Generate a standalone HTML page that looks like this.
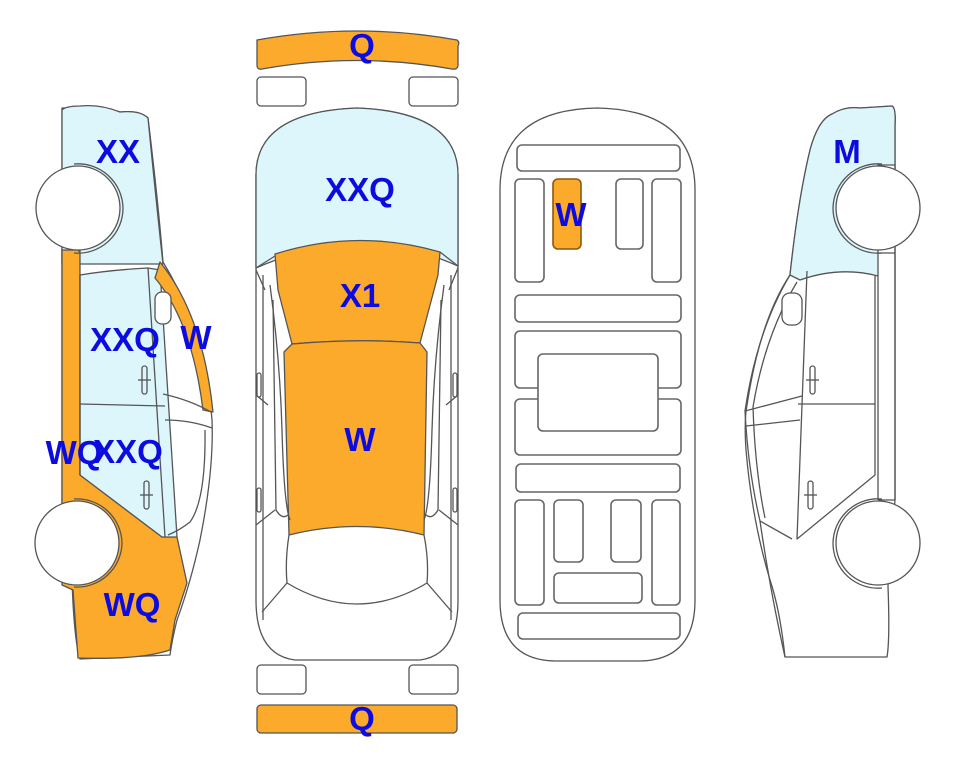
<!DOCTYPE html>
<html><head><meta charset="utf-8"><style>
html,body{margin:0;padding:0;background:#fff;}
svg{display:block;}
text{font-family:"Liberation Sans",Arial,sans-serif;font-weight:bold;font-size:33px;fill:#0C0CE0;text-anchor:middle;}
</style></head><body>
<svg width="963" height="768" viewBox="0 0 963 768" xmlns="http://www.w3.org/2000/svg">
<g stroke="#555" stroke-width="1.3" fill="none" stroke-linejoin="round">

<!-- ================= LEFT SIDE CAR ================= -->
<path d="M66,108 Q95,104 120,112 Q140,110 148,118 Q158,200 163,262 Q205,330 212,420 Q214,470 200,540 Q190,585 177,620 Q172,640 170,655 L80,659 Q74,640 72,580 L62,580 L62,108 Z" fill="#fff"/>
<path d="M62,110 Q66,106 80,106 Q100,104 120,112 Q140,110 148,118 Q156,200 163,264 L62,264 Z" fill="#DDF6FC"/>
<path d="M62,250 L80,250 L80,475 L162,537 L177,537 L187,583 L175,620 L170,650 Q140,660 78,658 L73,590 L62,585 Z" fill="#FBAA2C"/>
<path d="M80,275 Q110,270 148,268 L160,270 L177,537 L162,537 L80,475 Z" fill="#DDF6FC"/>
<line x1="80" y1="275" x2="80" y2="475"/>
<line x1="80" y1="404" x2="165" y2="406"/>
<line x1="148" y1="268" x2="165" y2="537"/>
<line x1="79" y1="245" x2="79" y2="252"/>
<path d="M160,262 Q203,315 213,412 L203,410 Q192,322 155,278 Z" fill="#FBAA2C"/>
<rect x="155" y="292" width="16" height="32" rx="7" fill="#fff"/>
<path d="M163,394 Q190,400 211,412"/>
<path d="M165,420 Q190,420 212,428"/>
<path d="M205,430 Q206,500 190,522 Q180,530 168,535"/>
<rect x="142" y="366" width="5" height="28" rx="2.5"/><path d="M138,380 h13"/>
<rect x="144" y="481" width="5" height="28" rx="2.5"/><path d="M140,495 h13"/>
<circle cx="78" cy="208" r="42" fill="#fff"/>
<circle cx="77" cy="543" r="42" fill="#fff"/>
<path d="M74,499 A45,45 0 0 1 122,543 A45,45 0 0 1 74,587" fill="none"/>
<path d="M74,164 A45,45 0 0 1 123,208 A45,45 0 0 1 74,253" fill="none"/>

<!-- ================= MIDDLE TOP CAR ================= -->
<path d="M257,40 Q357,22 457,40 Q460,42 458,46 L458,66 Q457,70 452,69 Q357,52 262,69 Q257,70 257,65 Z" fill="#FBAA2C"/>
<rect x="257" y="77" width="49" height="29" rx="4"/>
<rect x="409" y="77" width="49" height="29" rx="4"/>
<rect x="257" y="665" width="49" height="29" rx="4"/>
<rect x="409" y="665" width="49" height="29" rx="4"/>
<rect x="257" y="705" width="200" height="28" rx="4" fill="#FBAA2C"/>
<path d="M256,175 Q256,112 357,108 Q458,112 458,175 L458,600 Q458,655 420,660 L295,660 Q256,655 256,600 Z" fill="#fff"/>
<path d="M256,175 Q256,112 357,108 Q458,112 458,175 L458,266 Q360,222 256,268 Z" fill="#DDF6FC"/>
<path d="M275,254 Q357,228 440,252 L438,275 L420,343 Q357,338 292,344 L278,290 Z" fill="#FBAA2C"/>
<path d="M292,344 Q357,338 420,343 L427,352 L424,535 Q357,518 289,535 L284,352 Z" fill="#FBAA2C"/>
<path d="M256,268 L275,256"/><path d="M458,266 L440,252"/>
<path d="M263,275 L263,620"/><path d="M451,275 L451,620"/>
<path d="M270,285 Q280,360 282,430 Q284,505 290,520"/>
<path d="M444,285 Q434,360 432,430 Q430,505 424,520"/>
<path d="M273,300 Q275,420 276,510 Q282,520 288,515"/>
<path d="M441,300 Q439,420 438,510 Q432,520 426,515"/>
<path d="M289,535 Q285,560 287,583 Q357,625 427,583 Q429,560 424,535"/>
<path d="M287,583 L262,612"/><path d="M427,583 L452,612"/>
<path d="M256,270 L265,290"/><path d="M458,268 L449,290"/>
<rect x="257" y="373" width="4" height="24" rx="2"/><rect x="453" y="373" width="4" height="24" rx="2"/>
<rect x="257" y="488" width="4" height="24" rx="2"/><rect x="453" y="488" width="4" height="24" rx="2"/>
<path d="M256,395 L268,405"/><path d="M458,395 L446,405"/>
<path d="M256,525 L275,510"/><path d="M458,525 L439,510"/>

<!-- ================= CHASSIS ================= -->
<path d="M500,190 Q500,110 597,108 Q695,110 695,190 L695,600 Q695,660 640,661 L555,661 Q500,660 500,600 Z" fill="#fff"/>
<g stroke="#666" stroke-width="1.6">
<rect x="517" y="145" width="163" height="26" rx="5"/>
<rect x="515" y="179" width="29" height="103" rx="5"/>
<rect x="553" y="179" width="28" height="70" rx="5" fill="#FBAA2C" stroke="#8a5a10"/>
<rect x="616" y="179" width="27" height="70" rx="5"/>
<rect x="652" y="179" width="29" height="103" rx="5"/>
<rect x="515" y="295" width="166" height="27" rx="5"/>
<rect x="515" y="331" width="166" height="57" rx="5"/>
<rect x="515" y="399" width="166" height="56" rx="5"/>
<rect x="538" y="354" width="120" height="77" rx="5" fill="#fff"/>
<rect x="516" y="464" width="164" height="28" rx="5"/>
<rect x="515" y="500" width="29" height="105" rx="5"/>
<rect x="554" y="500" width="29" height="62" rx="5"/>
<rect x="611" y="500" width="30" height="62" rx="5"/>
<rect x="652" y="500" width="28" height="105" rx="5"/>
<rect x="554" y="573" width="88" height="30" rx="5"/>
<rect x="518" y="613" width="162" height="26" rx="5"/>
</g>

<!-- ================= RIGHT SIDE CAR ================= -->
<path d="M832,114 Q845,106 860,108 L892,106 Q896,108 895,125 L895,500 L888,586 Q890,640 887,657 L785,657 Q780,610 770,580 Q752,520 746,450 Q744,420 747,405 Q760,320 790,275 Q798,200 810,150 Q818,120 832,114 Z" fill="#fff"/>
<path d="M832,114 Q845,106 860,108 L892,106 Q896,108 895,125 L895,165 L878,165 L878,276 Q840,266 800,280 L790,275 Q798,200 810,150 Q818,120 832,114 Z" fill="#DDF6FC"/>
<path d="M878,253 L895,253"/><path d="M878,500 L895,500"/>
<path d="M878,276 L878,500"/><path d="M895,165 L895,500"/>
<path d="M807,271 L797,539 L875,475 L875,276"/>
<path d="M798,404 L875,404"/>
<path d="M790,275 Q757,330 745,411 Q748,470 760,521 L792,539"/>
<path d="M797,282 Q765,335 753,407 Q755,470 765,518"/>
<path d="M745,411 L802,396"/><path d="M746,426 L800,420"/>
<path d="M760,521 Q770,590 785,657"/>
<rect x="782" y="293" width="20" height="32" rx="8" fill="#fff"/>
<rect x="810" y="366" width="5" height="28" rx="2.5"/><path d="M806,380 h13"/>
<rect x="808" y="481" width="5" height="28" rx="2.5"/><path d="M804,495 h13"/>
<circle cx="878" cy="208" r="42" fill="#fff"/>
<path d="M882,164 A45,45 0 0 0 833,208 A45,45 0 0 0 882,253"/>
<circle cx="878" cy="543" r="42" fill="#fff"/>
<path d="M882,499 A45,45 0 0 0 833,543 A45,45 0 0 0 882,588"/>
</g>

<text x="118" y="163">XX</text>
<text x="125" y="351">XXQ</text>
<text x="196" y="349">W</text>
<text x="74" y="464">WQ</text>
<text x="128" y="463">XXQ</text>
<text x="132" y="616">WQ</text>
<text x="362" y="57">Q</text>
<text x="360" y="201">XXQ</text>
<text x="360" y="307">X1</text>
<text x="360" y="451">W</text>
<text x="362" y="730">Q</text>
<text x="571" y="226">W</text>
<text x="847" y="163">M</text>
</svg>
</body></html>
